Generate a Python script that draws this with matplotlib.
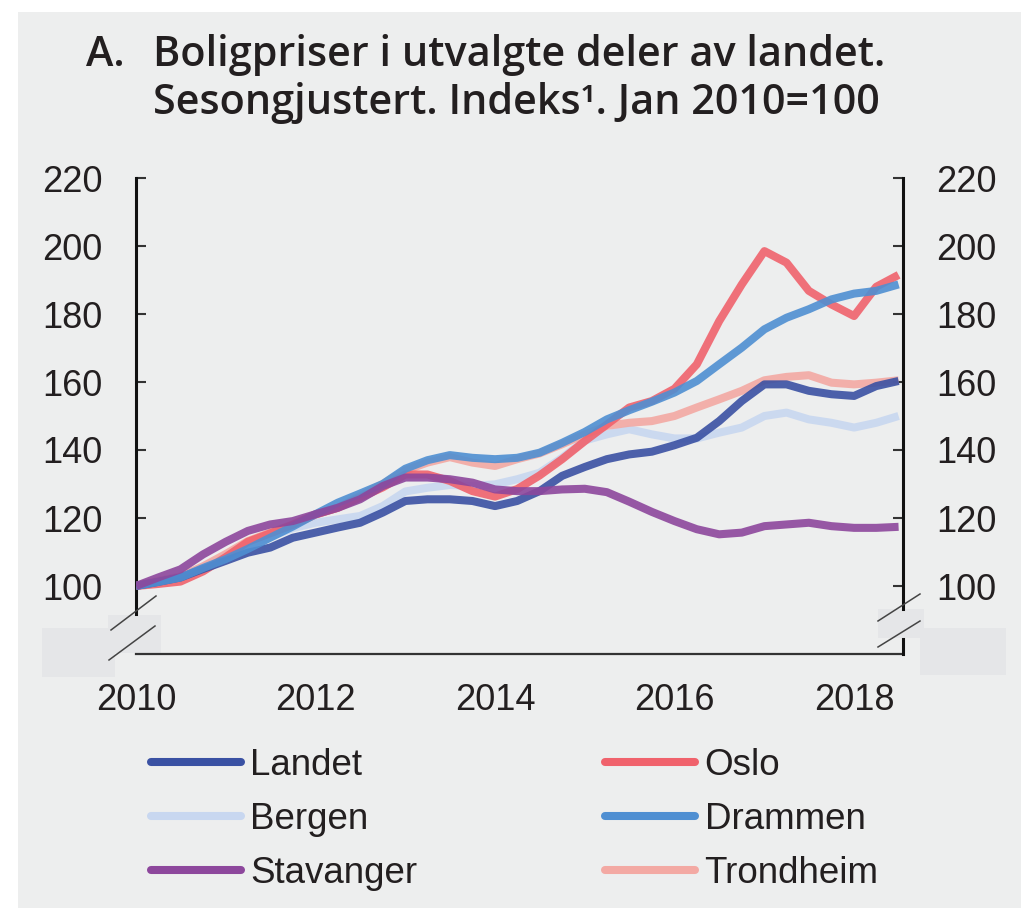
import matplotlib
matplotlib.use("Agg")
import matplotlib.pyplot as plt
from matplotlib.patches import Rectangle
from matplotlib.lines import Line2D
import pandas as pd

# ---------------- data (quarterly readings, index Jan 2010 = 100) ----------------
dates = pd.date_range("2010-01-01", "2018-07-01", freq="QS")

landet = [100, 101.2, 102.5, 105.0, 107.4, 109.8, 111.3, 114.2, 115.7, 117.2, 118.6, 121.6,
          125.0, 125.5, 125.5, 125.0, 123.5, 125.0, 127.9, 132.4, 135.0, 137.3, 138.7, 139.5,
          141.4, 143.6, 148.5, 154.4, 159.3, 159.3, 157.4, 156.4, 155.9, 158.8, 160.3]
oslo = [100, 100.6, 101.3, 104.3, 108.5, 113.0, 115.5, 118.0, 121.0, 123.0, 126.0, 129.0,
        132.8, 132.8, 130.9, 127.9, 126.3, 128.5, 132.5, 137.3, 142.6, 147.5, 152.5, 154.4,
        158.0, 165.2, 177.9, 188.7, 198.5, 195.1, 186.8, 182.8, 179.4, 188.0, 191.5]
bergen = [100, 101.5, 102.5, 105.5, 109.0, 112.0, 114.5, 117.0, 118.6, 119.6, 120.6, 123.5,
          127.8, 128.9, 129.7, 129.4, 129.9, 131.4, 133.3, 137.7, 142.8, 144.6, 146.1, 144.6,
          143.4, 143.4, 145.1, 146.6, 150.0, 151.0, 149.0, 148.0, 146.6, 148.0, 150.0]
drammen = [100, 101.2, 102.5, 105.3, 107.9, 110.9, 114.2, 117.5, 121.1, 124.5, 127.2, 130.0,
           134.5, 137.0, 138.5, 137.7, 137.3, 137.7, 139.2, 142.1, 145.3, 149.0, 151.7, 154.2,
           156.9, 160.3, 165.2, 170.1, 175.5, 178.9, 181.4, 184.3, 186.0, 186.8, 188.7]
stavanger = [100, 102.5, 104.9, 109.3, 113.0, 116.2, 118.1, 119.1, 121.1, 123.0, 125.5, 129.4,
             131.9, 131.9, 131.4, 130.4, 128.4, 127.9, 127.9, 128.4, 128.6, 127.6, 124.8, 121.8,
             119.1, 116.7, 115.2, 115.7, 117.6, 118.1, 118.6, 117.6, 117.1, 117.1, 117.4]
trondheim = [100, 101.5, 102.8, 105.8, 109.4, 113.2, 115.7, 118.1, 121.1, 123.0, 126.5, 130.0,
             134.0, 136.3, 137.9, 136.3, 135.3, 137.3, 139.0, 141.7, 144.6, 147.1, 148.0, 148.5,
             150.0, 152.5, 154.9, 157.4, 160.5, 161.5, 162.0, 159.8, 159.3, 159.8, 160.5]

series_names = ["Landet", "Oslo", "Bergen", "Drammen", "Stavanger", "Trondheim"]
year_ticks = ["2010", "2012", "2014", "2016", "2018"]
y_ticks = [100, 120, 140, 160, 180, 200, 220]

title_letter = "A."
title_line1 = "Boligpriser i utvalgte deler av landet."
title_line2 = "Sesongjustert. Indeks\u00b9. Jan 2010=100"

# ---------------- style ----------------
colors = {
    "Landet": "#3a51a3",
    "Oslo": "#f0626c",
    "Bergen": "#c8d7f0",
    "Drammen": "#4f8fd2",
    "Stavanger": "#8d479c",
    "Trondheim": "#f3a9a3",
}
BG = "#edeeee"
MASK = "#e5e6e8"
TXT = "#231f20"
TICKFONT = ["Liberation Sans", "DejaVu Sans"]
FS = 26
LW = 5.8

W, H = 1021, 911
fig = plt.figure(figsize=(W / 100, H / 100), dpi=100, facecolor="white")


def fx(px):
    return px / W


def fy(py):
    return 1 - py / H


# grey panel background
fig.patches.append(Rectangle((fx(18), fy(908)), fx(W) - fx(18), fy(12) - fy(908),
                             transform=fig.transFigure, facecolor=BG, edgecolor="none", zorder=-2))
# mask rectangles around the axis breaks
for (x0, y0, x1, y1) in [(42, 628, 115, 677), (108, 615, 161, 653),
                         (878, 609, 924, 638), (920, 628, 1006, 675)]:
    fig.patches.append(Rectangle((fx(x0), fy(y1)), fx(x1) - fx(x0), fy(y0) - fy(y1),
                                 transform=fig.transFigure, facecolor=MASK,
                                 edgecolor="none", zorder=-1))

ax = fig.add_axes([fx(136), fy(654), fx(903) - fx(136), fy(178) - fy(654)])
ax.set_zorder(2)
ax.set_facecolor("none")

data = {"Landet": landet, "Oslo": oslo, "Bergen": bergen, "Drammen": drammen,
        "Stavanger": stavanger, "Trondheim": trondheim}
draw_order = ["Bergen", "Trondheim", "Oslo", "Landet", "Drammen", "Stavanger"]
for name in draw_order:
    ax.plot(dates, data[name], color=colors[name], lw=LW, alpha=0.9,
            solid_capstyle="butt", solid_joinstyle="round", zorder=3)

ax.set_xlim(pd.Timestamp("2010-01-01"), pd.Timestamp("2018-07-19"))
ax.set_ylim(80, 220)

ax.set_xticks([pd.Timestamp(f"{y}-01-01") for y in year_ticks])
ax.set_xticklabels(year_ticks)
ax.set_yticks(y_ticks)
ax.set_yticklabels([str(v) for v in y_ticks])

ax.tick_params(axis="x", length=0, pad=21)
ax.tick_params(axis="y", direction="in", length=7, width=1.5, color="#333333",
               left=True, right=True, labelleft=True, labelright=True, pad=24)
for t in ax.xaxis.get_major_ticks() + ax.yaxis.get_major_ticks():
    for lab in (t.label1, t.label2):
        lab.set_fontfamily(TICKFONT)
        lab.set_fontsize(FS)
        lab.set_color(TXT)

ax.spines["top"].set_visible(False)
ax.spines["left"].set_bounds(91.8, 220)
ax.spines["left"].set_linewidth(2.2)
ax.spines["left"].set_color("#111111")
ax.spines["right"].set_bounds(93.2, 220)
ax.spines["right"].set_linewidth(2.2)
ax.spines["right"].set_color("#111111")
ax.spines["bottom"].set_linewidth(1.6)
ax.spines["bottom"].set_color("#333333")
# lower stub of right spine below the break
ax.add_line(Line2D([1, 1], [0, (84.4 - 80) / 140], transform=ax.transAxes, color="#111111",
                   lw=2.2, clip_on=False, zorder=4))

# break marks
for (x0, y0, x1, y1) in [(111, 630, 156, 596), (109, 660, 155, 626),
                         (878, 621, 920, 594), (878, 647, 920, 621)]:
    fig.add_artist(Line2D([fx(x0), fx(x1)], [fy(y0), fy(y1)], transform=fig.transFigure,
                          color="#444444", lw=1.1, zorder=5))

# title
title_font = ["Open Sans", "DejaVu Sans"]
TS = 29.8
tkw = dict(family=title_font, size=TS, weight="semibold", color=TXT, va="baseline", ha="left")
fig.text(fx(86), fy(66), title_letter, **tkw)
fig.text(fx(153), fy(66), title_line1, **tkw)
fig.text(fx(153), fy(114), title_line2, **tkw)

# legend (column-wise fill: Landet, Bergen, Stavanger | Oslo, Drammen, Trondheim)
leg_order = ["Landet", "Bergen", "Stavanger", "Oslo", "Drammen", "Trondheim"]
handles = [Line2D([], [], color=colors[n], lw=LW, solid_capstyle="round") for n in leg_order]
leg = fig.legend(handles, leg_order, loc="upper left", ncol=2,
                 bbox_to_anchor=(fx(151), fy(748)), bbox_transform=fig.transFigure,
                 frameon=False, borderpad=0, borderaxespad=0, handlelength=2.45,
                 handletextpad=0.25, columnspacing=5.1, labelspacing=0.52,
                 prop=dict(family=TICKFONT, size=26.5))
for t in leg.get_texts():
    t.set_color(TXT)

fig.savefig("out.png", dpi=100, facecolor="white")
